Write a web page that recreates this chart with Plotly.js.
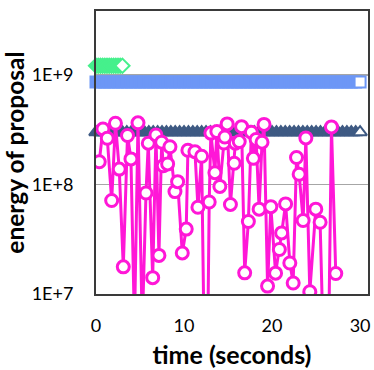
<!DOCTYPE html>
<html>
<head>
<meta charset="utf-8">
<script src="https://cdn.plot.ly/plotly-3.0.1.min.js"></script>
<style>
  html, body { margin: 0; padding: 0; background: #fff; }
  #chart { width: 374px; height: 370px; }
</style>
</head>
<body>
<div id="chart"></div>
<script>
// x ticks / y ticks
var xTicks = [0, 10, 20, 30];
var yTickVals = [1e7, 1e8, 1e9];
var yTickText = ['1E+7', '1E+8', '1E+9'];

// green series (only the first few seconds)
var greenTime = [0, 0.25, 0.5, 0.75, 1, 1.25, 1.5, 1.75, 2, 2.25, 2.5, 2.75, 3];
var greenEnergy = [1.21e9, 1.21e9, 1.21e9, 1.21e9, 1.21e9, 1.21e9, 1.21e9, 1.21e9, 1.21e9, 1.21e9, 1.21e9, 1.21e9, 1.21e9];

// blue + navy series share the same sample times
var seriesTime = [0, 0.5, 1, 1.5, 2, 2.5, 3, 3.5, 4, 4.5, 5, 5.5, 6, 6.5, 7, 7.5, 8, 8.5, 9, 9.5,
  10, 10.5, 11, 11.5, 12, 12.5, 13, 13.5, 14, 14.5, 15, 15.5, 16, 16.5, 17, 17.5, 18, 18.5, 19, 19.5,
  20, 20.5, 21, 21.5, 22, 22.5, 23, 23.5, 24, 24.5, 25, 25.5, 26, 26.5, 27, 27.5, 28, 28.5, 29, 29.5, 30];
var blueEnergy = [8.63e8, 8.63e8, 8.63e8, 8.63e8, 8.63e8, 8.63e8, 8.63e8, 8.63e8, 8.63e8, 8.63e8,
  8.63e8, 8.63e8, 8.63e8, 8.63e8, 8.63e8, 8.63e8, 8.63e8, 8.63e8, 8.63e8, 8.63e8,
  8.63e8, 8.63e8, 8.63e8, 8.63e8, 8.63e8, 8.63e8, 8.63e8, 8.63e8, 8.63e8, 8.63e8,
  8.63e8, 8.63e8, 8.63e8, 8.63e8, 8.63e8, 8.63e8, 8.63e8, 8.63e8, 8.63e8, 8.63e8,
  8.63e8, 8.63e8, 8.63e8, 8.63e8, 8.63e8, 8.63e8, 8.63e8, 8.63e8, 8.63e8, 8.63e8,
  8.63e8, 8.63e8, 8.63e8, 8.63e8, 8.63e8, 8.63e8, 8.63e8, 8.63e8, 8.63e8, 8.63e8, 8.63e8];
var navyEnergy = [3.0e8, 3.0e8, 3.0e8, 3.0e8, 3.0e8, 3.0e8, 3.0e8, 3.0e8, 3.0e8, 3.0e8,
  3.0e8, 3.0e8, 3.0e8, 3.0e8, 3.0e8, 3.0e8, 3.0e8, 3.0e8, 3.0e8, 3.0e8,
  3.0e8, 3.0e8, 3.0e8, 3.0e8, 3.0e8, 3.0e8, 3.0e8, 3.0e8, 3.0e8, 3.0e8,
  3.0e8, 3.0e8, 3.0e8, 3.0e8, 3.0e8, 3.0e8, 3.0e8, 3.0e8, 3.0e8, 3.0e8,
  3.0e8, 3.0e8, 3.0e8, 3.0e8, 3.0e8, 3.0e8, 3.0e8, 3.0e8, 3.0e8, 3.0e8,
  3.0e8, 3.0e8, 3.0e8, 3.0e8, 3.0e8, 3.0e8, 3.0e8, 3.0e8, 3.0e8, 3.0e8, 3.0e8];

// magenta series (5e6 = dips below the axis)
var magentaTime = [0.37, 0.79, 1.28, 1.78, 2.21, 2.64, 3.10, 3.58, 3.97, 4.37,
  4.77, 5.26, 5.68, 5.94, 6.44, 6.81, 7.15, 7.46, 7.64, 8.14,
  8.40, 8.97, 9.27, 9.80, 10.25, 10.44, 11.24, 11.58, 12.00, 12.26,
  12.71, 12.86, 13.05, 13.51, 13.73, 14.07, 14.53, 14.64, 14.90, 15.27,
  15.70, 15.83, 16.27, 16.54, 16.89, 17.31, 17.65, 17.88, 18.19, 18.53,
  18.86, 19.09, 19.49, 19.86, 20.40, 20.83, 21.09, 21.54, 22.02, 22.40,
  22.78, 23.08, 23.53, 23.84, 24.29, 24.97, 25.46, 25.77, 26.45, 26.75, 27.24];
var magentaEnergy = [1.61e8, 3.21e8, 2.64e8, 7.14e7, 3.62e8, 1.38e8, 1.77e7, 2.80e8, 1.71e8, 5e6,
  3.65e8, 5e6, 8.36e7, 2.38e8, 1.41e7, 2.83e8, 2.25e7, 2.43e8, 1.48e8, 1.54e8,
  2.21e8, 8.6e7, 1.06e8, 2.37e7, 3.91e7, 2.05e8, 1.99e8, 6.19e7, 1.81e8, 5e6,
  5e6, 6.92e7, 2.94e8, 1.28e8, 3.04e8, 9.6e7, 2.39e8, 2.71e8, 3.57e8, 6.57e7,
  1.56e8, 2.38e8, 2.46e8, 3.37e8, 1.56e7, 4.59e7, 3.0e8, 1.73e8, 2.57e8, 5.95e7,
  2.43e8, 3.53e8, 1.18e7, 6.27e7, 1.55e7, 2.55e7, 3.61e7, 6.64e7, 1.92e7, 1.26e7,
  1.76e8, 1.24e8, 4.69e7, 2.66e8, 1.05e7, 5.95e7, 4.52e7, 5e6, 5e6, 3.35e8, 1.54e7];

var GREEN = '#46F08C', BLUE = '#6D97F6', NAVY = '#3E5A83', MAGENTA = '#FF17D7';

// dense band: solid markers, only the last one is hollow
function fillColors(n, c) {
  return Array.from({length: n}, function(_, i) { return i === n - 1 ? '#fff' : c; });
}

var green = {
  x: greenTime, y: greenEnergy, type: 'scatter', mode: 'lines+markers',
  line: {color: GREEN, width: 8},
  marker: {symbol: 'diamond', size: 11, color: fillColors(greenTime.length, GREEN), line: {color: GREEN, width: 2}},
  cliponaxis: false
};
var blue = {
  x: seriesTime, y: blueEnergy, type: 'scatter', mode: 'lines+markers',
  line: {color: BLUE, width: 10},
  marker: {symbol: 'square', size: 11, color: fillColors(seriesTime.length, BLUE), line: {color: BLUE, width: 2}},
  cliponaxis: false
};
var navy = {
  x: seriesTime, y: navyEnergy, type: 'scatter', mode: 'lines+markers',
  line: {color: NAVY, width: 8},
  marker: {symbol: 'triangle-up', size: 12, color: fillColors(seriesTime.length, NAVY), line: {color: NAVY, width: 2}},
  cliponaxis: false
};
var magenta = {
  x: magentaTime, y: magentaEnergy, type: 'scatter', mode: 'lines+markers',
  line: {color: MAGENTA, width: 3},
  marker: {symbol: 'circle', size: 12, color: '#fff', line: {color: MAGENTA, width: 3}}
};

var layout = {
  width: 374, height: 370,
  margin: {l: 96, r: 6, t: 11, b: 76},
  paper_bgcolor: '#fff', plot_bgcolor: '#fff',
  showlegend: false,
  font: {family: 'Lato, "Open Sans", sans-serif', color: '#000'},
  xaxis: {
    range: [0, 30.9],
    tickvals: xTicks, ticks: '', ticklabelstandoff: 14,
    tickfont: {size: 18},
    showgrid: false, zeroline: false,
    showline: true, mirror: true, linecolor: '#3a3a3a', linewidth: 2,
    title: {text: 'time (seconds)', font: {size: 25, family: 'Lato', weight: 'bold'}, standoff: 12}
  },
  yaxis: {
    type: 'log', range: [7, 9.583],
    tickvals: yTickVals, ticktext: yTickText, ticks: '', ticklabelstandoff: 17,
    tickfont: {size: 18},
    showgrid: true, gridcolor: '#a6a6a6', gridwidth: 1.5,
    zeroline: false,
    showline: true, mirror: true, linecolor: '#3a3a3a', linewidth: 2,
    title: {text: 'energy of proposal', font: {size: 24.5, family: 'Lato', weight: 'bold'}, standoff: 8}
  }
};

Plotly.newPlot('chart', [green, blue, navy, magenta], layout, {displayModeBar: false, staticPlot: true});
</script>
</body>
</html>
